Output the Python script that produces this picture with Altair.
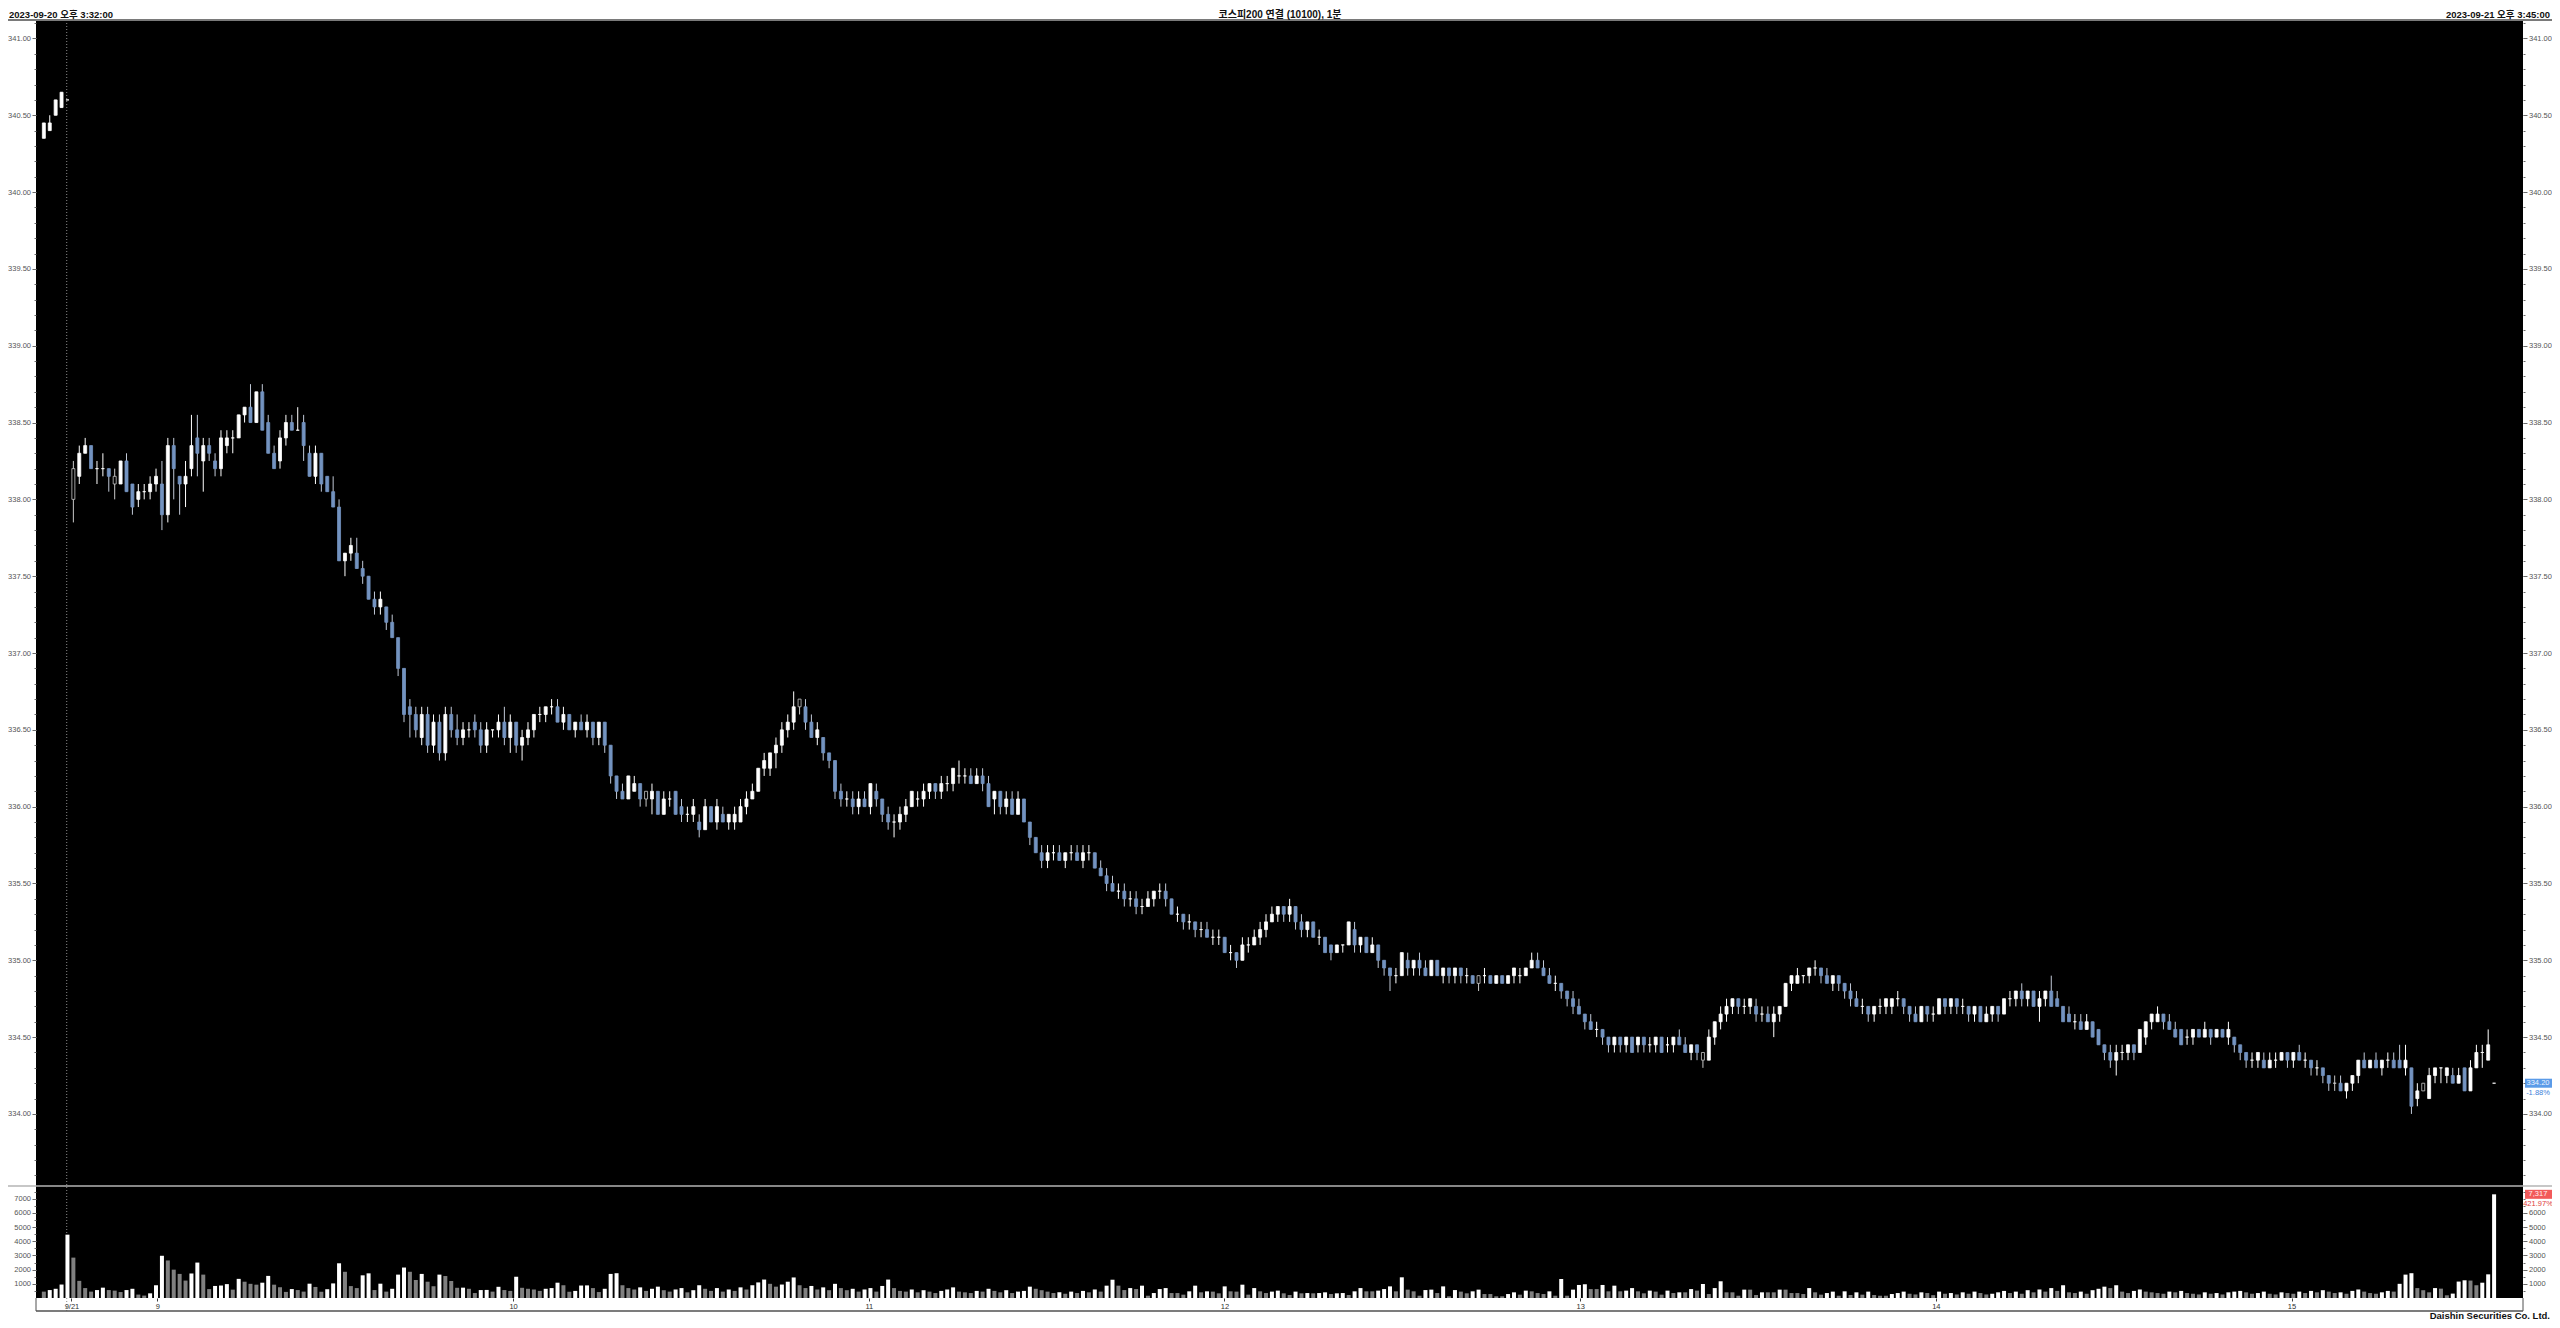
import altair as alt
import pandas as pd
import numpy as np

# ---------------- data ----------------
# candles as (open, high, low, close); 9/20 tail then 9/21 from 08:45
prev_day = [(340.35,340.45,340.35,340.45),(340.40,340.50,340.40,340.45),(340.50,340.60,340.50,340.60),
            (340.55,340.65,340.55,340.65),(340.60,340.60,340.60,340.60)]
s0845 = [(338.00,338.25,337.85,338.20),(338.15,338.35,338.10,338.30),(338.30,338.40,338.30,338.35),(338.35,338.35,338.20,338.20),(338.20,338.25,338.10,338.20),
         (338.20,338.30,338.15,338.20),(338.20,338.20,338.05,338.15),(338.10,338.20,338.00,338.15),(338.10,338.25,338.10,338.25),(338.25,338.30,338.05,338.05),
         (338.10,338.10,337.90,337.95),(338.00,338.10,337.95,338.05),(338.05,338.10,338.00,338.05),(338.05,338.15,338.00,338.10),(338.10,338.20,338.05,338.15)]
s0900 = [(338.10,338.25,337.80,337.90),(337.90,338.40,337.85,338.35),(338.35,338.40,338.00,338.20),(338.15,338.15,337.90,338.10),(338.10,338.25,337.95,338.15),
         (338.20,338.55,338.15,338.35),(338.40,338.55,338.15,338.30),(338.25,338.40,338.05,338.35),(338.35,338.40,338.25,338.30),(338.25,338.30,338.15,338.20),
         (338.20,338.45,338.15,338.40),(338.35,338.45,338.30,338.40),(338.40,338.45,338.30,338.40),(338.40,338.55,338.40,338.55),(338.55,338.60,338.50,338.60),
         (338.60,338.75,338.50,338.50),(338.50,338.70,338.50,338.70),(338.70,338.75,338.45,338.45),(338.50,338.55,338.30,338.30),(338.30,338.35,338.20,338.20),
         (338.25,338.45,338.20,338.40),(338.40,338.55,338.35,338.50),(338.50,338.55,338.45,338.45),(338.45,338.60,338.45,338.45),(338.50,338.55,338.25,338.35),
         (338.30,338.35,338.15,338.15),(338.15,338.35,338.10,338.30),(338.30,338.30,338.05,338.10),(338.15,338.15,338.05,338.05),(338.05,338.15,337.95,337.95),
         (337.95,338.00,337.60,337.60),(337.60,337.65,337.50,337.65),(337.65,337.75,337.60,337.70),(337.65,337.75,337.55,337.55),(337.55,337.60,337.45,337.50),
         (337.50,337.50,337.35,337.35),(337.35,337.40,337.25,337.30),(337.30,337.40,337.25,337.35),(337.30,337.30,337.15,337.20),(337.20,337.25,337.10,337.10),
         (337.10,337.10,336.85,336.90),(336.90,336.90,336.55,336.60),(336.65,336.70,336.45,336.60),(336.60,336.65,336.45,336.50),(336.45,336.65,336.40,336.60),
         (336.60,336.65,336.35,336.40),(336.40,336.60,336.35,336.55),(336.55,336.60,336.30,336.35),(336.35,336.65,336.30,336.60),(336.60,336.65,336.45,336.50),
         (336.50,336.60,336.40,336.45),(336.45,336.55,336.40,336.50),(336.50,336.55,336.45,336.50),(336.55,336.60,336.45,336.50),(336.50,336.55,336.35,336.40),
         (336.40,336.55,336.35,336.50),(336.50,336.50,336.45,336.50),(336.50,336.60,336.45,336.55),(336.55,336.65,336.40,336.45),(336.45,336.60,336.35,336.55)]
s1000 = [(336.55,336.55,336.35,336.40),(336.40,336.50,336.30,336.45),(336.45,336.55,336.40,336.50),(336.50,336.60,336.45,336.60),(336.60,336.65,336.55,336.60),
         (336.60,336.65,336.55,336.65),(336.65,336.70,336.60,336.65),(336.65,336.70,336.55,336.55),(336.55,336.65,336.50,336.60),(336.60,336.60,336.50,336.50),
         (336.50,336.55,336.45,336.55),(336.55,336.60,336.50,336.50),(336.50,336.60,336.45,336.55),(336.55,336.55,336.40,336.45),(336.45,336.55,336.40,336.55),
         (336.55,336.55,336.35,336.40),(336.40,336.40,336.15,336.20),(336.20,336.20,336.05,336.10),(336.10,336.15,336.05,336.05),(336.05,336.20,336.05,336.20),
         (336.10,336.20,336.10,336.15),(336.15,336.15,336.00,336.05),(336.05,336.10,336.00,336.10),(336.05,336.15,335.95,336.10),(336.10,336.10,335.95,335.95),
         (335.95,336.10,335.95,336.05),(336.05,336.10,336.00,336.05),(336.10,336.10,335.95,335.95),(336.00,336.05,335.90,335.95),(335.95,336.00,335.90,335.95),
         (335.95,336.05,335.90,336.00),(335.90,335.95,335.80,335.85),(335.85,336.05,335.85,336.00),(336.00,336.00,335.90,335.90),(335.90,336.05,335.85,336.00),
         (335.95,336.00,335.90,335.90),(335.90,335.95,335.85,335.95),(335.90,336.00,335.85,335.95),(335.90,336.05,335.90,336.00),(336.00,336.10,335.95,336.05),
         (336.05,336.15,336.05,336.10),(336.10,336.25,336.10,336.25),(336.25,336.35,336.20,336.30),(336.25,336.35,336.20,336.35),(336.35,336.45,336.25,336.40),
         (336.40,336.55,336.35,336.50),(336.50,336.60,336.45,336.55),(336.55,336.75,336.50,336.65),(336.65,336.70,336.60,336.70),(336.65,336.70,336.50,336.55),
         (336.55,336.60,336.45,336.45),(336.45,336.55,336.40,336.50),(336.45,336.45,336.30,336.35),(336.35,336.35,336.25,336.30),(336.30,336.30,336.05,336.10),
         (336.10,336.15,336.00,336.05),(336.05,336.10,336.00,336.05),(336.05,336.10,335.95,336.00),(336.00,336.10,335.95,336.05),(336.05,336.10,336.00,336.00)]
s1100 = [(336.00,336.15,335.95,336.15),(336.10,336.15,336.00,336.05),(336.05,336.05,335.90,335.95),(335.95,336.00,335.85,335.90),(335.90,335.95,335.80,335.90),
         (335.90,336.00,335.85,335.95),(335.95,336.05,335.90,336.00),(336.00,336.10,336.00,336.10),(336.05,336.10,336.00,336.05),(336.05,336.15,336.00,336.10),
         (336.10,336.15,336.05,336.15),(336.15,336.15,336.05,336.10),(336.10,336.20,336.05,336.15),(336.15,336.20,336.10,336.15),(336.15,336.25,336.10,336.25),
         (336.20,336.30,336.15,336.20),(336.20,336.25,336.15,336.20),(336.20,336.25,336.15,336.15),(336.15,336.25,336.15,336.20),(336.20,336.25,336.10,336.15),
         (336.15,336.20,336.00,336.00),(336.05,336.10,335.95,336.10),(336.10,336.10,335.95,336.00),(336.00,336.10,335.95,336.05),(336.05,336.10,335.95,335.95),
         (335.95,336.10,335.95,336.05),(336.05,336.05,335.90,335.90),(335.90,335.90,335.75,335.80),(335.80,335.80,335.70,335.70),(335.70,335.75,335.60,335.65),
         (335.65,335.75,335.60,335.70),(335.70,335.75,335.65,335.70),(335.70,335.75,335.65,335.65),(335.65,335.70,335.60,335.70),(335.70,335.75,335.65,335.70),
         (335.70,335.75,335.65,335.65),(335.65,335.75,335.60,335.70),(335.70,335.75,335.65,335.70),(335.70,335.70,335.60,335.60),(335.60,335.65,335.55,335.55),
         (335.55,335.60,335.45,335.50),(335.50,335.55,335.45,335.45),(335.45,335.50,335.40,335.45),(335.45,335.50,335.35,335.40),(335.40,335.45,335.35,335.40),
         (335.40,335.45,335.30,335.35),(335.35,335.40,335.30,335.35),(335.35,335.45,335.35,335.40),(335.40,335.45,335.35,335.45),(335.45,335.50,335.40,335.45),
         (335.45,335.50,335.35,335.40),(335.40,335.40,335.30,335.30),(335.30,335.35,335.25,335.30),(335.30,335.30,335.20,335.25),(335.25,335.30,335.20,335.25),
         (335.25,335.25,335.15,335.20),(335.20,335.25,335.15,335.20),(335.20,335.25,335.15,335.15),(335.15,335.20,335.10,335.15),(335.15,335.20,335.10,335.15)]
s1200 = [(335.15,335.15,335.05,335.05),(335.05,335.10,335.00,335.05),(335.05,335.05,334.95,335.00),(335.00,335.15,335.00,335.10),(335.10,335.15,335.05,335.10),
         (335.10,335.20,335.10,335.15),(335.15,335.25,335.10,335.20),(335.20,335.30,335.15,335.25),(335.25,335.35,335.25,335.30),(335.30,335.35,335.25,335.35),
         (335.35,335.35,335.25,335.30),(335.30,335.40,335.25,335.35),(335.35,335.35,335.20,335.25),(335.25,335.30,335.15,335.20),(335.20,335.25,335.15,335.25),
         (335.25,335.25,335.15,335.15),(335.15,335.20,335.10,335.15),(335.15,335.15,335.05,335.05),(335.10,335.10,335.00,335.05),(335.05,335.10,335.05,335.10),
         (335.10,335.10,335.05,335.10),(335.10,335.25,335.10,335.25),(335.20,335.25,335.05,335.10),(335.10,335.15,335.05,335.15),(335.15,335.15,335.05,335.05),
         (335.05,335.15,335.05,335.10),(335.10,335.10,334.95,335.00),(335.00,335.00,334.90,334.95),(334.95,334.95,334.80,334.90),(334.90,334.95,334.85,334.90),
         (334.90,335.05,334.90,335.05),(335.00,335.05,334.90,334.95),(334.95,335.00,334.90,335.00),(335.00,335.05,334.90,334.95),(334.95,335.00,334.90,334.90),
         (334.90,335.00,334.90,335.00),(335.00,335.00,334.90,334.90),(334.90,334.95,334.85,334.95),(334.95,334.95,334.85,334.90),(334.90,334.95,334.85,334.95),
         (334.95,334.95,334.85,334.90),(334.90,334.95,334.85,334.90),(334.90,334.90,334.85,334.85),(334.85,334.90,334.80,334.90),(334.90,334.95,334.85,334.90),
         (334.90,334.90,334.85,334.85),(334.85,334.90,334.85,334.90),(334.90,334.90,334.85,334.85),(334.85,334.90,334.85,334.90),(334.90,334.95,334.85,334.95),
         (334.90,334.95,334.85,334.90),(334.90,334.95,334.90,334.95),(334.95,335.05,334.95,335.00),(335.00,335.05,334.95,334.95),(334.95,335.00,334.90,334.90),
         (334.90,334.95,334.85,334.85),(334.85,334.90,334.80,334.85),(334.85,334.85,334.75,334.80),(334.80,334.80,334.70,334.75),(334.75,334.80,334.65,334.70)]
s1300 = [(334.70,334.75,334.65,334.65),(334.65,334.65,334.55,334.60),(334.60,334.65,334.55,334.55),(334.55,334.60,334.50,334.55),(334.55,334.55,334.45,334.50),
         (334.50,334.50,334.40,334.45),(334.45,334.50,334.40,334.50),(334.50,334.50,334.40,334.45),(334.45,334.50,334.40,334.50),(334.50,334.50,334.40,334.40),
         (334.45,334.50,334.40,334.50),(334.50,334.50,334.40,334.45),(334.45,334.50,334.40,334.45),(334.45,334.50,334.40,334.50),(334.50,334.50,334.40,334.40),
         (334.45,334.50,334.40,334.45),(334.45,334.50,334.40,334.50),(334.50,334.55,334.45,334.45),(334.45,334.50,334.40,334.40),(334.40,334.45,334.35,334.45),
         (334.45,334.45,334.35,334.40),(334.40,334.40,334.30,334.35),(334.35,334.55,334.35,334.50),(334.50,334.60,334.45,334.60),(334.60,334.70,334.55,334.65),
         (334.65,334.75,334.60,334.70),(334.70,334.75,334.65,334.75),(334.75,334.75,334.65,334.70),(334.70,334.75,334.65,334.70),(334.70,334.75,334.65,334.75),
         (334.70,334.75,334.60,334.65),(334.65,334.70,334.60,334.65),(334.65,334.70,334.60,334.60),(334.60,334.70,334.50,334.65),(334.65,334.70,334.60,334.70),
         (334.70,334.85,334.70,334.85),(334.85,334.90,334.80,334.90),(334.85,334.95,334.85,334.90),(334.90,334.90,334.85,334.90),(334.90,334.95,334.85,334.95),
         (334.95,335.00,334.90,334.95),(334.95,334.95,334.85,334.90),(334.90,334.95,334.85,334.85),(334.85,334.90,334.80,334.90),(334.90,334.90,334.80,334.85),
         (334.85,334.85,334.75,334.80),(334.80,334.85,334.70,334.75),(334.75,334.80,334.70,334.70),(334.70,334.75,334.65,334.70),(334.70,334.70,334.60,334.65),
         (334.65,334.70,334.60,334.70),(334.70,334.75,334.65,334.70),(334.70,334.75,334.65,334.75),(334.70,334.75,334.65,334.75),(334.75,334.80,334.70,334.75),
         (334.75,334.75,334.65,334.70),(334.70,334.70,334.60,334.65),(334.65,334.70,334.60,334.60),(334.60,334.70,334.60,334.70),(334.70,334.70,334.60,334.65)]
s1400 = [(334.65,334.70,334.60,334.65),(334.65,334.75,334.65,334.75),(334.75,334.75,334.65,334.70),(334.70,334.75,334.65,334.75),(334.75,334.75,334.65,334.70),
         (334.70,334.75,334.65,334.70),(334.70,334.70,334.60,334.65),(334.65,334.70,334.60,334.70),(334.70,334.70,334.60,334.60),(334.60,334.70,334.60,334.65),
         (334.65,334.70,334.60,334.70),(334.70,334.70,334.60,334.65),(334.65,334.75,334.65,334.75),(334.75,334.80,334.70,334.75),(334.75,334.80,334.70,334.80),
         (334.80,334.85,334.70,334.75),(334.75,334.80,334.70,334.80),(334.80,334.80,334.70,334.70),(334.70,334.80,334.60,334.75),(334.75,334.80,334.70,334.80),
         (334.80,334.90,334.70,334.70),(334.75,334.80,334.70,334.70),(334.70,334.70,334.60,334.60),(334.65,334.70,334.60,334.60),(334.60,334.65,334.55,334.60),
         (334.60,334.65,334.55,334.55),(334.55,334.65,334.55,334.60),(334.60,334.60,334.50,334.50),(334.55,334.55,334.45,334.45),(334.45,334.45,334.35,334.40),
         (334.40,334.45,334.30,334.35),(334.35,334.45,334.25,334.40),(334.40,334.45,334.35,334.40),(334.40,334.45,334.35,334.45),(334.45,334.45,334.35,334.40),
         (334.40,334.55,334.40,334.55),(334.50,334.60,334.45,334.60),(334.60,334.65,334.55,334.65),(334.60,334.70,334.60,334.65),(334.65,334.65,334.55,334.60),
         (334.60,334.65,334.55,334.55),(334.55,334.60,334.50,334.50),(334.55,334.55,334.45,334.45),(334.50,334.55,334.45,334.50),(334.50,334.55,334.45,334.55),
         (334.55,334.55,334.50,334.50),(334.50,334.60,334.50,334.55),(334.55,334.55,334.45,334.50),(334.50,334.55,334.50,334.55),(334.55,334.55,334.50,334.50),
         (334.50,334.60,334.45,334.55),(334.50,334.50,334.40,334.45),(334.45,334.45,334.35,334.40),(334.40,334.40,334.30,334.35),(334.35,334.40,334.30,334.35),
         (334.35,334.40,334.30,334.40),(334.35,334.40,334.30,334.30),(334.30,334.40,334.30,334.35),(334.35,334.40,334.30,334.35),(334.35,334.40,334.35,334.40)]
s1500 = [(334.40,334.40,334.30,334.35),(334.35,334.40,334.30,334.40),(334.40,334.45,334.35,334.35),(334.35,334.40,334.30,334.35),(334.35,334.35,334.25,334.30),
         (334.30,334.35,334.25,334.30),(334.30,334.30,334.20,334.25),(334.25,334.25,334.15,334.20),(334.20,334.25,334.15,334.20),(334.20,334.25,334.15,334.15),
         (334.15,334.20,334.10,334.20),(334.20,334.25,334.15,334.25),(334.25,334.35,334.20,334.35),(334.35,334.40,334.30,334.30),(334.30,334.35,334.30,334.35),
         (334.35,334.40,334.30,334.30),(334.30,334.35,334.25,334.35),(334.35,334.40,334.30,334.35),(334.35,334.40,334.30,334.30),(334.35,334.45,334.30,334.30),
         (334.30,334.45,334.25,334.35),(334.30,334.30,334.00,334.05),(334.10,334.20,334.05,334.15),(334.15,334.20,334.15,334.20),(334.10,334.30,334.10,334.25),
         (334.25,334.30,334.20,334.30),(334.30,334.30,334.20,334.30),(334.25,334.30,334.20,334.30),(334.25,334.30,334.20,334.20),(334.20,334.30,334.20,334.25),
         (334.30,334.30,334.15,334.15),(334.15,334.35,334.15,334.30),(334.30,334.45,334.30,334.40),(334.40,334.45,334.30,334.40),(334.35,334.55,334.35,334.45),
         (334.20,334.20,334.20,334.20)]
# minutes (from 08:45) drawn as hollow candles in the picture
hollow_idx = [0, 7, 97, 123, 238, 276, 383, 398]

# volumes (contracts), same order
vol_prev = [450, 560, 650, 950, 4470]
vol_0845 = [2850, 1210, 700, 450, 560, 730, 560, 520, 420, 560, 650, 240, 170, 330, 900]
vol_0900 = [2980, 2650, 2000, 1700, 1230, 1730, 2500, 1650, 630, 850,
            880, 980, 590, 1350, 1150, 1000, 940, 1080, 1560, 940,
            760, 430, 630, 560, 450, 1010, 780, 440, 620, 1030,
            2450, 1850, 840, 700, 1600, 1740, 560, 1010, 450, 650,
            1650, 2150, 1850, 1270, 1700, 1150, 830, 1650, 1550, 1200,
            720, 730, 650, 350, 560, 570, 450, 790, 560, 500]
vol_1000 = [1500, 720, 650, 600, 500, 650, 700, 1080, 900, 440,
            500, 880, 890, 700, 420, 650, 1700, 1750, 900, 700,
            600, 750, 500, 650, 800, 550, 450, 600, 700, 400,
            550, 900, 650, 500, 700, 450, 600, 500, 750, 600,
            900, 1100, 1300, 1000, 800, 950, 1150, 1450, 900, 700,
            850, 600, 750, 550, 1000, 700, 550, 650, 450, 600]
vol_1100 = [700, 450, 850, 1300, 700, 500, 450, 600, 400, 550,
            450, 350, 500, 600, 750, 450, 400, 350, 500, 450,
            650, 500, 400, 550, 350, 450, 500, 800, 650, 550,
            450, 350, 400, 300, 450, 350, 500, 400, 600, 450,
            870, 1290, 870, 560, 700, 630, 870, 160, 350, 630,
            700, 350, 350, 235, 470, 870, 400, 470, 450, 330]
vol_1200 = [820, 470, 450, 940, 235, 700, 470, 350, 450, 520,
            330, 210, 450, 330, 350, 330, 350, 400, 280, 330,
            350, 210, 470, 700, 470, 470, 520, 630, 820, 470,
            1460, 590, 470, 160, 560, 590, 350, 820, 120, 560,
            450, 330, 470, 590, 280, 280, 120, 120, 280, 400,
            235, 520, 470, 350, 280, 470, 160, 1340, 160, 590]
vol_1300 = [920, 970, 630, 630, 920, 470, 870, 470, 520, 700,
            470, 330, 520, 450, 235, 520, 350, 400, 400, 630,
            520, 990, 280, 700, 1180, 400, 400, 160, 590, 590,
            210, 400, 400, 400, 590, 590, 350, 350, 280, 700,
            400, 235, 350, 450, 160, 470, 210, 400, 235, 450,
            210, 160, 160, 280, 350, 450, 300, 250, 400, 350]
vol_1400 = [200, 450, 300, 350, 250, 400, 300, 450, 350, 250,
            300, 400, 500, 350, 450, 300, 550, 400, 600, 450,
            700, 500, 900, 400, 350, 450, 300, 550, 650, 800,
            700, 900, 450, 350, 500, 600, 450, 400, 350, 300,
            450, 400, 500, 350, 300, 250, 400, 300, 350, 250,
            400, 450, 500, 400, 300, 350, 450, 300, 250, 400]
vol_1500 = [350, 300, 450, 350, 500, 400, 550, 450, 350, 400,
            300, 500, 600, 450, 350, 300, 400, 500, 450, 1000,
            1650, 1750, 700, 550, 400, 700, 660, 190, 310, 1160,
            1250, 1230, 900, 1080, 1670, 7317]

price_ticks = [334.0, 334.5, 335.0, 335.5, 336.0, 336.5, 337.0, 337.5,
               338.0, 338.5, 339.0, 339.5, 340.0, 340.5, 341.0]
vol_ticks_left = [1000, 2000, 3000, 4000, 5000, 6000, 7000]
vol_ticks_right = [1000, 2000, 3000, 4000, 5000, 6000]
x_tick_vals = [0.5, 15, 75, 135, 195, 255, 315, 375]
x_tick_text = ["9/21", "9", "10", "11", "12", "13", "14", "15"]

last_price = 334.20
last_pct = "-1.88%"
last_vol = 7317
last_vol_pct = "421.97%"
hdr_left = "2023-09-20 오후 3:32:00"
hdr_title = "코스피200 연결 (10100), 1분"
hdr_right = "2023-09-21 오후 3:45:00"
footer = "Daishin Securities Co. Ltd."

# ---------------- assemble ----------------
today = s0845 + s0900 + s1000 + s1100 + s1200 + s1300 + s1400 + s1500
ohlc = prev_day + today
vols = vol_prev + vol_0845 + vol_0900 + vol_1000 + vol_1100 + vol_1200 + vol_1300 + vol_1400 + vol_1500
n = min(len(ohlc), len(vols))
slots = list(range(-len(prev_day), 0)) + list(range(0, len(today)))
df = pd.DataFrame(ohlc[:n], columns=["o", "h", "l", "c"])
df["i"] = slots[:n]
df["v"] = vols[:n]
UP, DOWN = "#ffffff", "#7393c0"
up = df.c >= df.o
df["col"] = np.where(up, UP, DOWN)
df["scol"] = df["col"]
hollow = df.i.isin(hollow_idx)
df.loc[hollow, "col"] = "#000000"
df.loc[hollow, "scol"] = "#c8c8c8"
df["wcol"] = np.where(up, "#ffffff", "#c0c8d6")
df.loc[hollow, "wcol"] = "#c8c8c8"
prev_v = df.v.shift(1)
df["vcol"] = np.where(df.v > prev_v, "#ffffff", "#808080")

# ---------------- geometry ----------------
W = 2487
PRICE_H = 1166
VOL_BASE = 1278
H_TOTAL = 1291
FONT = "Liberation Sans, Noto Sans CJK KR, sans-serif"
P_LO, P_HI = 333.531, 341.120
V_HI = 7904
X_LO, X_HI = -5.482, 414.05


def xs():
    return alt.Scale(domain=[X_LO, X_HI], range=[0, W], nice=False, zero=False)


pscale = alt.Scale(domain=[P_LO, P_HI], range=[PRICE_H, 0], nice=False, zero=False)
vscale = alt.Scale(domain=[0, V_HI], range=[VOL_BASE, PRICE_H], nice=False, zero=False)


def yaxis(orient, values, labels=True, tick=4, fmt=".2f"):
    return alt.Axis(orient=orient, values=values, labels=labels, format=fmt,
                    tickSize=tick, tickColor="#6a6a6a", tickWidth=1,
                    domain=False, grid=False, title=None,
                    labelFontSize=7.5, labelColor="#555555", labelFont=FONT,
                    labelPadding=1.5, labelOverlap=False, labelFlush=False,
                    labelBound=False, zindex=1)


Xn = alt.X("i:Q", scale=xs(), axis=None)
one = pd.DataFrame({"z": [0]})

bg = alt.Chart(one).mark_rect(color="black").encode(
    x=alt.value(0), x2=alt.value(W), y=alt.value(0), y2=alt.value(VOL_BASE))

# price group (candles + last-price box)
wicks = alt.Chart(df).mark_rule(strokeWidth=1).encode(
    x=Xn,
    y=alt.Y("l:Q", scale=pscale, axis=None),
    y2="h:Q",
    color=alt.Color("wcol:N", scale=None))
bodies = alt.Chart(df).mark_bar(width=3, strokeWidth=0.8).encode(
    x=Xn,
    y=alt.Y("o:Q", scale=pscale, axis=None),
    y2="c:Q",
    color=alt.Color("col:N", scale=None),
    stroke=alt.Stroke("scol:N", scale=None))
lastp = pd.DataFrame({"p": [last_price], "t": [f"{last_price:.2f}"], "pct": [last_pct]})
pbox = alt.Chart(lastp).mark_rule(strokeWidth=9, color="#5b9be8", strokeCap="butt").encode(
    x=alt.value(W + 2), x2=alt.value(W + 29), y=alt.Y("p:Q", scale=pscale, axis=None))
ptxt = alt.Chart(lastp).mark_text(color="#eef4ff", fontSize=7.5, font=FONT, align="center",
                                  baseline="middle").encode(
    x=alt.value(W + 15), y=alt.Y("p:Q", scale=pscale, axis=None), text="t:N")
ppct = alt.Chart(lastp).mark_text(color="#3b7fd9", fontSize=7.5, font=FONT, align="center",
                                  baseline="middle", dy=10).encode(
    x=alt.value(W + 15), y=alt.Y("p:Q", scale=pscale, axis=None), text="pct:N")
price_group = alt.layer(wicks, bodies, pbox, ptxt, ppct)

# price axes (left / right, major / minor)
pdom = pd.DataFrame({"p": [P_LO, P_HI]})
minor_p = [round(333.6 + 0.1 * k, 2) for k in range(76)]


def axis_layer(dom_df, field, scale, axis):
    return alt.Chart(dom_df).mark_point(opacity=0, size=0).encode(
        y=alt.Y(f"{field}:Q", scale=scale, axis=axis))


p_L = axis_layer(pdom, "p", pscale, yaxis("left", price_ticks))
p_minL = axis_layer(pdom, "p", pscale, yaxis("left", minor_p, labels=False, tick=2))
p_R = axis_layer(pdom, "p", pscale, yaxis("right", price_ticks))
p_minR = axis_layer(pdom, "p", pscale, yaxis("right", minor_p, labels=False, tick=2))

# volume group
vbars = alt.Chart(df).mark_bar(width=4).encode(
    x=Xn,
    y=alt.Y("v:Q", scale=vscale, axis=None),
    y2=alt.datum(0),
    color=alt.Color("vcol:N", scale=None))
lastv = pd.DataFrame({"v": [last_vol], "t": [f"{last_vol:,}"], "pct": [last_vol_pct]})
vbox = alt.Chart(lastv).mark_rule(strokeWidth=9, color="#f25a5a", strokeCap="butt").encode(
    x=alt.value(W + 2), x2=alt.value(W + 29), y=alt.Y("v:Q", scale=vscale, axis=None))
vtxt = alt.Chart(lastv).mark_text(color="#fff0f0", fontSize=7.5, font=FONT, align="center",
                                  baseline="middle").encode(
    x=alt.value(W + 15), y=alt.Y("v:Q", scale=vscale, axis=None), text="t:N")
vpct = alt.Chart(lastv).mark_text(color="#e03a3a", fontSize=7.5, font=FONT, align="center",
                                  baseline="middle", dy=10).encode(
    x=alt.value(W + 15), y=alt.Y("v:Q", scale=vscale, axis=None), text="pct:N")
vol_group = alt.layer(vbars, vbox, vtxt, vpct)

vdom = pd.DataFrame({"v": [0, V_HI]})
minor_v = [500 * k for k in range(1, 16)]
v_L = axis_layer(vdom, "v", vscale, yaxis("left", vol_ticks_left, fmt="d"))
v_minL = axis_layer(vdom, "v", vscale, yaxis("left", minor_v, labels=False, tick=2, fmt="d"))
v_R = axis_layer(vdom, "v", vscale, yaxis("right", vol_ticks_right, fmt="d"))
v_minR = axis_layer(vdom, "v", vscale, yaxis("right", minor_v, labels=False, tick=2, fmt="d"))

# time axis in the white strip under the volume panel
xaxis = alt.Axis(orient="bottom", offset=-(H_TOTAL - VOL_BASE), values=x_tick_vals,
                 labelExpr=" : ".join(f"datum.value == {v} ? '{t}'" for v, t in zip(x_tick_vals, x_tick_text)) + " : ''",
                 tickSize=3, tickColor="#404040", domain=False, grid=False, title=None,
                 labelFontSize=7.5, labelColor="#303030", labelFont=FONT, labelPadding=1,
                 labelFlush=False, labelOverlap=False, zindex=1)
xdom = pd.DataFrame({"i": [X_LO, X_HI]})
x_layer = alt.Chart(xdom).mark_point(opacity=0, size=0).encode(
    x=alt.X("i:Q", scale=xs(), axis=xaxis))

# decorations
day_line = alt.Chart(one).mark_rule(color="#8c8c8c", strokeDash=[1, 2], strokeWidth=1).encode(
    x=alt.X(datum=-0.3, type="quantitative", scale=xs(), axis=None),
    y=alt.value(0), y2=alt.value(H_TOTAL))
top_line = alt.Chart(one).mark_rule(color="#7a7a7a", strokeWidth=2).encode(
    x=alt.value(-28), x2=alt.value(W + 29), y=alt.value(0))
sep_line = alt.Chart(one).mark_rule(color="#b4b4b4", strokeWidth=1.5).encode(
    x=alt.value(-28), x2=alt.value(W + 29), y=alt.value(PRICE_H))
strip_bottom = alt.Chart(one).mark_rule(color="#505050", strokeWidth=1.5).encode(
    x=alt.value(0), x2=alt.value(W), y=alt.value(H_TOTAL))
strip_left = alt.Chart(one).mark_rule(color="#505050", strokeWidth=1).encode(
    x=alt.value(0), y=alt.value(VOL_BASE), y2=alt.value(H_TOTAL))
strip_right = alt.Chart(one).mark_rule(color="#505050", strokeWidth=1).encode(
    x=alt.value(W), y=alt.value(VOL_BASE), y2=alt.value(H_TOTAL))


def label(txt, x, y, align, weight="bold", size=9.5):
    return alt.Chart(pd.DataFrame({"t": [txt]})).mark_text(
        align=align, baseline="alphabetic", fontSize=size, fontWeight=weight,
        font=FONT, color="#111111").encode(x=alt.value(x), y=alt.value(y), text="t:N")


t1 = label(hdr_left, -27, -2.5, "left")
t2 = label(hdr_title, 1244, -2.5, "center", size=10)
t3 = label(hdr_right, W + 27, -2.5, "right")
t4 = label(footer, W + 27, 1299, "right")

chart = alt.layer(
    bg, day_line, price_group, p_L, p_minL, p_R, p_minR,
    vol_group, v_L, v_minL, v_R, v_minR, x_layer,
    top_line, sep_line, strip_bottom, strip_left, strip_right,
    t1, t2, t3, t4
).resolve_scale(x="independent", y="independent").resolve_axis(
    x="independent", y="independent").properties(
    width=W, height=H_TOTAL,
    padding={"left": 28, "top": 12, "right": 29, "bottom": 9},
    autosize=alt.AutoSizeParams(type="none"),
    background="white",
).configure_view(strokeWidth=0)

chart.save("out.html", embed_options={"renderer": "svg", "actions": False})
